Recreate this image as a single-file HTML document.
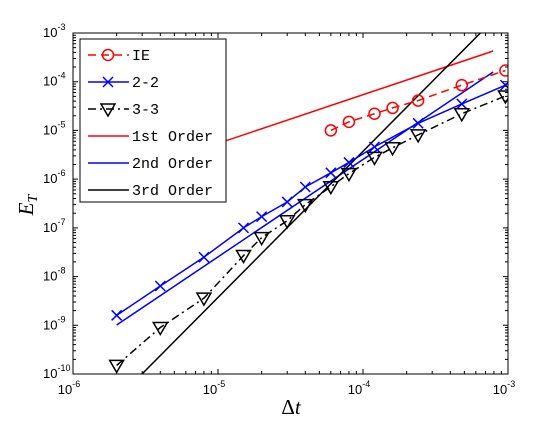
<!DOCTYPE html>
<html><head><meta charset="utf-8"><style>
body{margin:0;background:#fff}
</style></head><body>
<svg id="c" width="560" height="420" xmlns="http://www.w3.org/2000/svg" font-family="Liberation Sans, sans-serif">
<rect width="560" height="420" fill="#fff"/>
<g id="g"></g>
</svg>
<script>
const ieDt = [6e-5,8e-5,1.2e-4,1.6e-4,2.4e-4,4.8e-4,9.6e-4];
const ieErr = [1e-5,1.5e-5,2.2e-5,2.9e-5,4.1e-5,8.5e-5,1.7e-4];
const s22Dt = [2e-6,4e-6,8e-6,1.5e-5,2e-5,3e-5,4e-5,6e-5,8e-5,1.2e-4,2.4e-4,4.8e-4,9.6e-4];
const s22Err = [1.6e-9,6.4e-9,2.5e-8,1e-7,1.7e-7,3.4e-7,6.9e-7,1.35e-6,2.2e-6,4.6e-6,1.4e-5,3.5e-5,8.5e-5];
const s33Dt = [2e-6,4e-6,8e-6,1.5e-5,2e-5,3e-5,4e-5,6e-5,8e-5,1.2e-4,1.6e-4,2.4e-4,4.8e-4,9.6e-4];
const s33Err = [1.5e-10,9e-10,3.6e-9,2.7e-8,6.3e-8,1.4e-7,3e-7,7e-7,1.3e-6,2.8e-6,4.4e-6,8.1e-6,2.2e-5,5.1e-5];
const refOrders = [1,2,3];
const refLogC = [-0.267,2.404,6.572];
const refStart = [2e-6,2e-6,1e-6];
const refEnd = [7.9e-4,7.9e-4,1e-3];
const refColors = ['#ff0000','#0000ff','#000000'];
const xTicks = [-6,-5,-4,-3];
const yTicks = [-10,-9,-8,-7,-6,-5,-4,-3];

const L=73,R=508,T=33,B=374;
const X=v=>L+(Math.log10(v)+6)/3*(R-L);
const Y=v=>B-(Math.log10(v)+10)/7*(B-T);
const NS='http://www.w3.org/2000/svg';
const g=document.getElementById('g');
function mk(tag,attrs,parent){const e=document.createElementNS(NS,tag);for(const k in attrs)e.setAttribute(k,attrs[k]);(parent||g).appendChild(e);return e;}

const defs=mk('defs',{});const cp=mk('clipPath',{id:'clip'},defs);mk('rect',{x:L,y:T,width:R-L,height:B-T},cp);
const plot=mk('g',{'clip-path':'url(#clip)'});

refOrders.forEach((p,i)=>{
  const f=d=>Math.pow(10,refLogC[i]+p*Math.log10(d));
  const l=mk('line',{x1:X(refStart[i]),y1:Y(f(refStart[i])),x2:X(refEnd[i]),y2:Y(f(refEnd[i])),stroke:refColors[i],'stroke-width':1.5},plot);
  
  
});

function series(dt,err,color,dash,name){
  const pts=dt.map((d,i)=>X(d)+','+Y(err[i])).join(' ');
  const pl=mk('polyline',{points:pts,fill:'none',stroke:color,'stroke-width':1.5,'stroke-dasharray':dash},plot);
  
  
  return dt.map((d,i)=>[X(d),Y(err[i])]);
}
function marker(type,x,y,parent,name){
  let e;
  if(type==='o'){e=mk('circle',{cx:x,cy:y,r:5.5,fill:'none',stroke:'#f00','stroke-width':1.5},parent);}
  else if(type==='x'){e=mk('path',{d:`M${x-5},${y-5}L${x+5},${y+5}M${x-5},${y+5}L${x+5},${y-5}`,stroke:'#00f','stroke-width':1.5},parent);}
  else{e=mk('path',{d:`M${x-7},${y-5}L${x+7},${y-5}L${x},${y+7}Z`,fill:'none',stroke:'#000','stroke-width':1.5},parent);}
  
  
}
series(ieDt,ieErr,'#f00','8 5','ie').forEach(p=>marker('o',p[0],p[1],plot,'ie-point'));
series(s22Dt,s22Err,'#00f','none','scheme-2-2').forEach(p=>marker('x',p[0],p[1],plot,'scheme-2-2-point'));
series(s33Dt,s33Err,'#000','8 4 2 4','scheme-3-3').forEach(p=>marker('v',p[0],p[1],plot,'scheme-3-3-point'));

const box=mk('rect',{x:L,y:T,width:R-L,height:B-T,fill:'none',stroke:'#000','stroke-width':1});


let td='';
for(let e=-6;e<=-3;e++)for(let m=1;m<10;m++){if(e===-3&&m>1)break;const v=m*Math.pow(10,e);const x=X(v);const len=m===1?5:3;td+=`M${x},${B}v${-len}M${x},${T}v${len}`;}
for(let e=-10;e<=-3;e++)for(let m=1;m<10;m++){if(e===-3&&m>1)break;const v=m*Math.pow(10,e);const y=Y(v);const len=m===1?5:3;td+=`M${L},${y}h${len}M${R},${y}h${-len}`;}
mk('path',{d:td,stroke:'#000','stroke-width':1,fill:'none'});

xTicks.forEach(e=>{
  const t=mk('text',{x:X(Math.pow(10,e))-4,y:B+20,'font-size':13,'text-anchor':'middle'});
  
  
  t.innerHTML='10<tspan dy="-7" font-size="9">'+e+'</tspan>';
});
yTicks.forEach(e=>{
  const t=mk('text',{x:43,y:Y(Math.pow(10,e))+4,'font-size':13});
  
  
  t.innerHTML='10<tspan dy="-7" font-size="9">'+e+'</tspan>';
});

const xt=mk('text',{x:291,y:414,'font-size':21,'text-anchor':'middle','font-family':'Liberation Serif, serif'});


xt.innerHTML='Δ<tspan font-style="italic">t</tspan>';
const yt=mk('text',{x:0,y:0,'font-size':21,'text-anchor':'middle','font-family':'Liberation Serif, serif','font-style':'italic',transform:'translate(33,205) rotate(-90)'});


yt.innerHTML='E<tspan dy="4" font-size="14">T</tspan>';

const lg=mk('g',{});


mk('rect',{x:80,y:39,width:146,height:163,fill:'#fff',stroke:'#000','stroke-width':1},lg);
const labels=['IE','2-2','3-3','1st Order','2nd Order','3rd Order'];
const lcol=['#f00','#00f','#000','#f00','#00f','#000'];
const ldash=['8 5','none','8 4 2 4','none','none','none'];
const lmk=['o','x','v',null,null,null];
labels.forEach((s,i)=>{
  const y=55+i*27;
  const eg=mk('g',{},lg);
  
  
  mk('line',{x1:88,y1:y,x2:129,y2:y,stroke:lcol[i],'stroke-width':1.5,'stroke-dasharray':ldash[i]},eg);
  if(lmk[i])marker(lmk[i],108,y,eg,'legend-marker');
  const t=mk('text',{x:132,y:y+5,'font-size':15,'font-family':'Liberation Mono, monospace'},eg);
  t.textContent=s;
});
</script>
</body></html>
